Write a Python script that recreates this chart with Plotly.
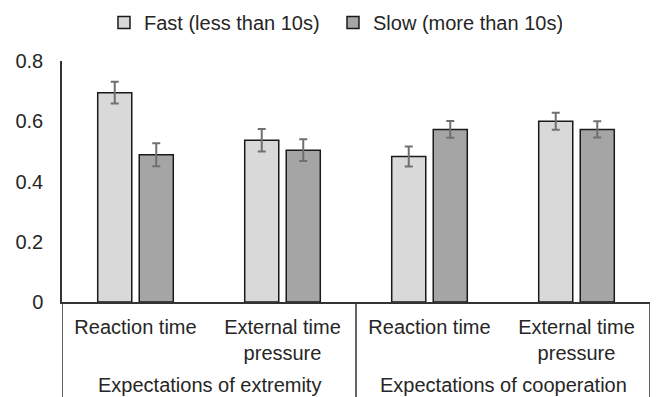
import plotly.graph_objects as go

group_names = ["Expectations of extremity", "Expectations of cooperation"]
subcats = ["Reaction time", "External time<br>pressure",
           "Reaction time", "External time<br>pressure"]
cat_group = [0, 0, 1, 1]

fast_vals = [0.695, 0.537, 0.483, 0.600]
fast_err = [0.036, 0.037, 0.033, 0.028]
slow_vals = [0.489, 0.504, 0.573, 0.573]
slow_err = [0.038, 0.036, 0.028, 0.027]

series_names = ["Fast (less than 10s)", "Slow (more than 10s)"]
y_ticks = [0, 0.2, 0.4, 0.6, 0.8]
y_ticklabels = ["0", "0.2", "0.4", "0.6", "0.8"]

FONT = "Arial, Liberation Sans, sans-serif"
TXT = "#262626"
LINE = "#333333"

xpos = list(range(len(subcats)))

fig = go.Figure()
for name, vals, errs, color in [
    (series_names[0], fast_vals, fast_err, "#d9d9d9"),
    (series_names[1], slow_vals, slow_err, "#a5a5a5"),
]:
    fig.add_trace(go.Bar(
        name=name,
        x=xpos,
        y=vals,
        marker=dict(color=color, line=dict(color="#1a1a1a", width=1.5)),
        error_y=dict(type="data", array=errs, visible=True,
                     color="#707070", thickness=2, width=4),
    ))

# group labels and dividers below the axis
for g, gname in enumerate(group_names):
    members = [i for i, cg in enumerate(cat_group) if cg == g]
    center = sum(members) / len(members)
    fig.add_annotation(
        x=center, xref="x", y=-0.344, yref="paper",
        text=gname, showarrow=False, yanchor="middle",
        font=dict(family=FONT, size=20, color=TXT),
    )
boundaries = [-0.5] + [i + 0.5 for i in range(len(cat_group) - 1)
                       if cat_group[i] != cat_group[i + 1]] + [len(cat_group) - 0.5]
for b in boundaries:
    fig.add_shape(type="line", xref="x", yref="paper",
                  x0=b, x1=b, y0=0, y1=-0.42,
                  line=dict(color=LINE, width=1.5))

fig.update_layout(
    width=657, height=397,
    margin=dict(l=62, r=7, t=61, b=95, autoexpand=False),
    barmode="group",
    bargap=0.435,
    bargroupgap=0.18,
    paper_bgcolor="white",
    plot_bgcolor="white",
    font=dict(family=FONT, size=20, color=TXT),
    showlegend=True,
    legend=dict(
        orientation="h",
        x=0.0714, xanchor="left",
        y=1.16, yanchor="middle",
        font=dict(family=FONT, size=20, color=TXT),
        traceorder="normal",
        entrywidth=184,
        bgcolor="rgba(0,0,0,0)",
    ),
    xaxis=dict(
        automargin=False,
        range=[-0.5, len(subcats) - 0.5],
        tickvals=xpos, ticktext=subcats,
        showline=True, linecolor=LINE, linewidth=1.5,
        showgrid=False, zeroline=False, ticks="",
        ticklabelstandoff=6,
        tickfont=dict(size=20, color=TXT),
    ),
    yaxis=dict(
        automargin=False,
        range=[0, 0.8],
        tickvals=y_ticks, ticktext=y_ticklabels,
        showline=True, linecolor=LINE, linewidth=1.5,
        showgrid=False, zeroline=False, ticks="",
        ticklabelstandoff=13,
        tickfont=dict(size=20, color=TXT),
    ),
)

fig.write_html("out.html",
               config={"displayModeBar": False},
               post_script="document.body.style.margin='0';document.body.style.overflow='hidden';")
